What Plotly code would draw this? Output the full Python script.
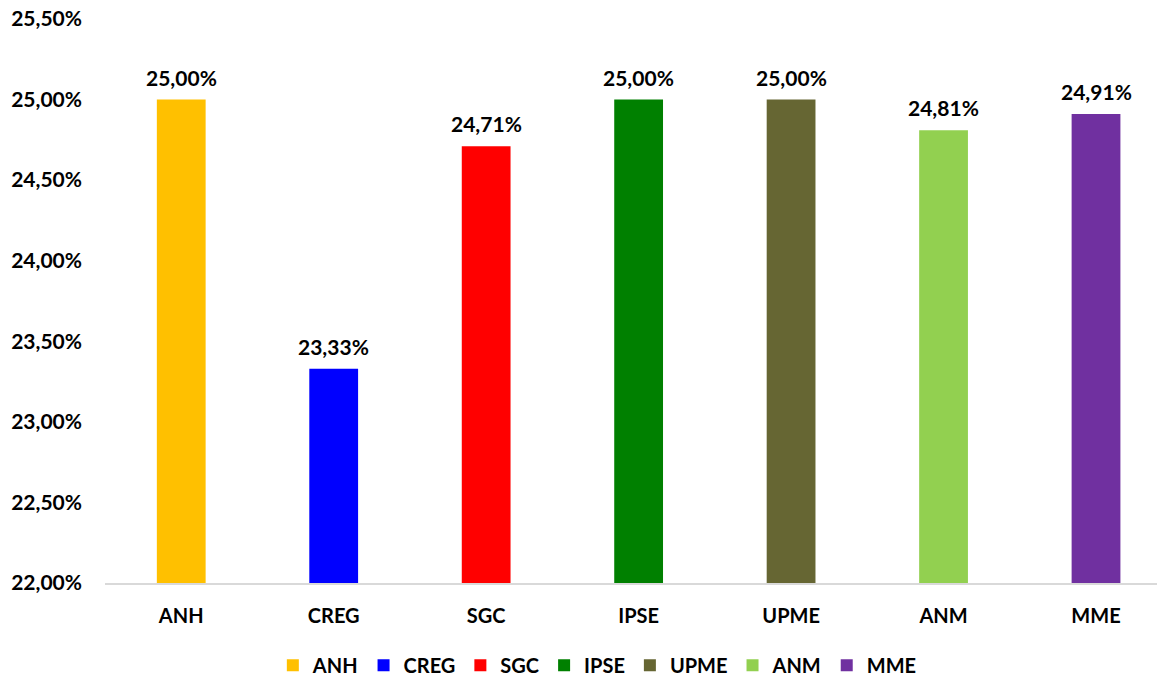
import plotly.graph_objects as go

categories = ["ANH", "CREG", "SGC", "IPSE", "UPME", "ANM", "MME"]
values = [25.00, 23.33, 24.71, 25.00, 25.00, 24.81, 24.91]
colors = ["#FFC000", "#0000FF", "#FF0000", "#008000", "#666633", "#92D050", "#7030A0"]

font_family = "Lato, 'Open Sans', sans-serif"

fig = go.Figure()
for cat, val, col in zip(categories, values, colors):
    fig.add_trace(go.Bar(
        x=[cat], y=[val], name=cat,
        marker=dict(color=col, line=dict(width=0)),
        width=0.32,
    ))
    fig.add_annotation(
        x=cat, y=val, text="<b>%s%%</b>" % ("%.2f" % val).replace(".", ","),
        showarrow=False, yanchor="bottom", yshift=8,
        font=dict(size=21, color="#000000", family=font_family),
    )

fig.update_layout(
    width=1157, height=678,
    barmode="overlay",
    separators=", ",
    plot_bgcolor="white", paper_bgcolor="white",
    margin=dict(l=105, r=0, t=19, b=95, autoexpand=False),
    font=dict(family=font_family, color="#000000"),
    showlegend=True,
    legend=dict(orientation="h", x=0.468, xanchor="center", y=-0.146, yanchor="middle",
                font=dict(size=20, family=font_family, weight="bold"),
                traceorder="normal", itemsizing="constant"),
    xaxis=dict(
        range=[-0.5, 6.4], showgrid=False, showline=True, linecolor="#D9D9D9", linewidth=2,
        ticks="", tickfont=dict(size=20, family=font_family, weight="bold"), ticklabelstandoff=14,
        categoryorder="array", categoryarray=categories, automargin=False,
    ),
    yaxis=dict(
        range=[22, 25.5], dtick=0.5, tick0=22, tickformat=".2f", ticksuffix="%",
        showgrid=False, zeroline=False, showline=False, automargin=False,
        tickfont=dict(size=21, family=font_family, weight="bold"), ticks="", ticklabelstandoff=22,
    ),
)

fig.write_html("out.html", config={"displayModeBar": False},
               post_script="document.body.style.margin='0';document.body.style.overflow='hidden';")
